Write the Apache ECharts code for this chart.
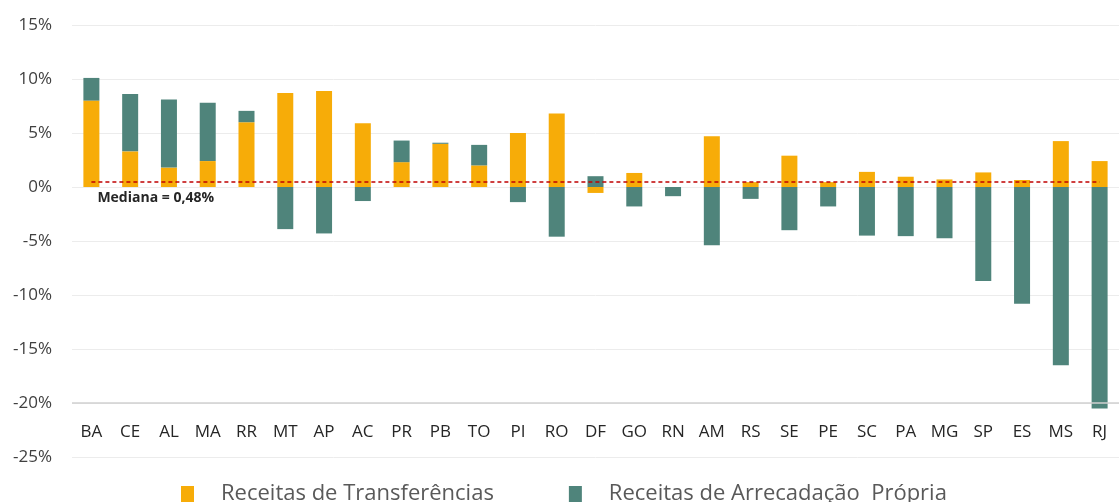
<!DOCTYPE html>
<html>
<head>
<meta charset="utf-8">
<script src="https://cdn.jsdelivr.net/npm/echarts@6/dist/echarts.min.js"></script>
<style>
  html, body { margin: 0; padding: 0; background: #fff; }
  #chart { width: 1119px; height: 502px; }
</style>
</head>
<body>
<div id="chart"></div>
<script>
const categories = ['BA', 'CE', 'AL', 'MA', 'RR', 'MT', 'AP', 'AC', 'PR', 'PB', 'TO', 'PI', 'RO', 'DF',
  'GO', 'RN', 'AM', 'RS', 'SE', 'PE', 'SC', 'PA', 'MG', 'SP', 'ES', 'MS', 'RJ'];

// Receitas de Transferências (%)
const transferencias = [8.0, 3.3, 1.8, 2.4, 6.0, 8.7, 8.9, 5.9, 2.3, 4.0, 2.0, 5.0, 6.8, -0.55,
  1.3, 0, 4.7, 0.45, 2.9, 0.45, 1.4, 0.95, 0.7, 1.35, 0.65, 4.25, 2.4];

// Receitas de Arrecadação Própria (%)
const arrecadacao = [2.1, 5.3, 6.3, 5.4, 1.05, -3.9, -4.3, -1.3, 2.0, 0.1, 1.9, -1.4, -4.6, 1.0,
  -1.8, -0.85, -5.4, -1.1, -4.0, -1.8, -4.5, -4.55, -4.75, -8.7, -10.8, -16.5, -20.5];

const mediana = 0.48;
const axisCross = -20;

const chart = echarts.init(document.getElementById('chart'));

const labelFont = "'Open Sans', 'Noto Sans', sans-serif";

chart.setOption({
  animation: false,
  grid: { top: 25, bottom: 45, left: 72, right: -11 },
  legend: {
    left: 176,
    top: 478,
    itemWidth: 13,
    itemHeight: 16,
    itemGap: 75,
    icon: 'rect',
    textStyle: {
      color: '#595959',
      fontSize: 22,
      fontFamily: labelFont,
      padding: [0, 0, 0, 22],
    },
    data: ['Receitas de Transferências', 'Receitas de Arrecadação  Própria'],
  },
  xAxis: {
    type: 'category',
    data: categories,
    offset: -33,
    axisLine: { show: false },
    axisTick: { show: false },
    axisLabel: {
      color: '#262626',
      fontSize: 17,
      fontFamily: "'Liberation Sans Narrow', 'Open Sans', sans-serif",
      margin: 0,
      interval: 0,
    },
  },
  yAxis: {
    type: 'value',
    min: -25,
    max: 15,
    interval: 5,
    axisLine: { show: false },
    axisTick: { show: false },
    splitLine: { lineStyle: { color: '#ececec', width: 1 } },
    axisLabel: {
      color: '#404040',
      fontSize: 17,
      fontFamily: labelFont,
      margin: 20,
      formatter: (v) => `${v}%`,
    },
  },
  series: [
    {
      name: 'Receitas de Transferências',
      type: 'bar',
      stack: 'total',
      barWidth: 16,
      data: transferencias,
      itemStyle: { color: '#F7AC08' },
    },
    {
      name: 'Receitas de Arrecadação  Própria',
      type: 'bar',
      stack: 'total',
      barWidth: 16,
      data: arrecadacao,
      itemStyle: { color: '#4F847B' },
      markLine: {
        silent: true,
        symbol: 'none',
        animation: false,
        data: [
          {
            yAxis: axisCross,
            lineStyle: { color: '#d0d0d0', type: 'solid', width: 1.5 },
            label: { show: false },
          },
          [
            {
              coord: [categories[0], mediana],
              lineStyle: { color: '#C00000', type: [4, 3], width: 1.5 },
              label: {
                show: true,
                position: 'insideStartBottom',
                formatter: 'Mediana = 0,48%',
                color: '#262626',
                fontWeight: 'bold',
                fontSize: 14,
                fontFamily: labelFont,
                distance: [6, 9],
              },
            },
            { coord: [categories[categories.length - 1], mediana] },
          ],
        ],
      },
    },
  ],
});

window.addEventListener('resize', () => chart.resize());
</script>
</body>
</html>
